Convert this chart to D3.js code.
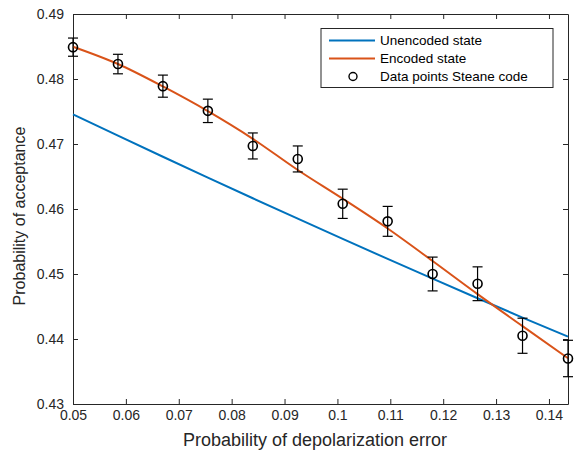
<!DOCTYPE html>
<html>
<head>
<meta charset="utf-8">
<script src="https://cdn.jsdelivr.net/npm/d3@7"></script>
<style>
  body { margin: 0; background: #fff; }
  svg { display: block; font-family: "Liberation Sans", Arial, sans-serif; }
</style>
</head>
<body>
<div id="page"></div>
<script>
// data
const p_error = [0.05, 0.0585, 0.0670, 0.0755, 0.0840, 0.0925, 0.1010, 0.1095, 0.1180, 0.1265, 0.1350, 0.1436];
const unencoded = [0.47457, 0.47129, 0.46804, 0.46483, 0.46165, 0.45851, 0.45540, 0.45232, 0.44928, 0.44627, 0.44330, 0.44036];
const encoded = [0.48497, 0.48231, 0.47885, 0.47505, 0.47080, 0.46600, 0.46158, 0.45700, 0.45200, 0.44690, 0.44198, 0.43703];
const steane = [0.4849, 0.4823, 0.4789, 0.4751, 0.4697, 0.4677, 0.4608, 0.4581, 0.4500, 0.4485, 0.4405, 0.4370];
const steane_err = [0.0014, 0.0015, 0.0017, 0.0018, 0.0020, 0.0020, 0.00225, 0.0023, 0.0026, 0.0026, 0.0027, 0.0028];

const x_ticks = [0.05, 0.06, 0.07, 0.08, 0.09, 0.1, 0.11, 0.12, 0.13, 0.14];
const x_tick_labels = ["0.05", "0.06", "0.07", "0.08", "0.09", "0.1", "0.11", "0.12", "0.13", "0.14"];
const y_ticks = [0.43, 0.44, 0.45, 0.46, 0.47, 0.48, 0.49];
const y_tick_labels = ["0.43", "0.44", "0.45", "0.46", "0.47", "0.48", "0.49"];

const legend_labels = ["Unencoded state", "Encoded state", "Data points Steane code"];

// layout
const w = 579, h = 451;
const margin = { top: 14, right: 11, bottom: 47, left: 73 };
const axis_color = "#262626";
const blue = "#0072BD";
const orange = "#D95319";

const svg = d3.select("#page").append("svg")
    .attr("width", w)
    .attr("height", h);

const x = d3.scaleLinear().domain([0.05, 0.1436]).range([margin.left, w - margin.right]);
const y = d3.scaleLinear().domain([0.43, 0.49]).range([h - margin.bottom, margin.top]);

// axes, ticks inward like matlab
const x_axis = d3.axisBottom(x).tickValues(x_ticks)
    .tickFormat((d, i) => x_tick_labels[i])
    .tickSizeInner(-5).tickSizeOuter(0).tickPadding(6);
const y_axis = d3.axisLeft(y).tickValues(y_ticks)
    .tickFormat((d, i) => y_tick_labels[i])
    .tickSizeInner(-5).tickSizeOuter(0).tickPadding(9);

svg.append("g")
    .attr("transform", `translate(0,${h - margin.bottom})`)
    .call(x_axis);
svg.append("g")
    .attr("transform", `translate(${margin.left},0)`)
    .call(y_axis);

// top and right box ticks
svg.append("g")
    .attr("transform", `translate(0,${margin.top})`)
    .call(d3.axisTop(x).tickValues(x_ticks).tickFormat("").tickSizeInner(-5).tickSizeOuter(0));
svg.append("g")
    .attr("transform", `translate(${w - margin.right},0)`)
    .call(d3.axisRight(y).tickValues(y_ticks).tickFormat("").tickSizeInner(-5).tickSizeOuter(0));

svg.selectAll(".domain, .tick line").attr("stroke", axis_color);
svg.selectAll(".tick text")
    .attr("fill", axis_color)
    .style("font-size", "14px");

// lines
const line = (vals) => d3.line()
    .x((d, i) => x(p_error[i]))
    .y((d) => y(d))
    .curve(d3.curveMonotoneX)(vals);

svg.append("path")
    .attr("d", line(unencoded))
    .attr("fill", "none")
    .attr("stroke", blue)
    .attr("stroke-width", 2);

svg.append("path")
    .attr("d", line(encoded))
    .attr("fill", "none")
    .attr("stroke", orange)
    .attr("stroke-width", 2);

// error bars
const cap = 5;
const bars = svg.append("g").attr("stroke", "#000").attr("stroke-width", 1.2);
steane.forEach((v, i) => {
    const cx = x(p_error[i]);
    const y0 = y(v - steane_err[i]);
    const y1 = y(v + steane_err[i]);
    bars.append("line").attr("x1", cx).attr("x2", cx).attr("y1", y0).attr("y2", y1);
    bars.append("line").attr("x1", cx - cap).attr("x2", cx + cap).attr("y1", y0).attr("y2", y0);
    bars.append("line").attr("x1", cx - cap).attr("x2", cx + cap).attr("y1", y1).attr("y2", y1);
});

svg.append("g").selectAll("circle")
    .data(steane)
    .join("circle")
    .attr("cx", (d, i) => x(p_error[i]))
    .attr("cy", (d) => y(d))
    .attr("r", 4.5)
    .attr("fill", "none")
    .attr("stroke", "#000")
    .attr("stroke-width", 1.6);

// legend
const lg = svg.append("g");
lg.append("rect")
    .attr("x", 321).attr("y", 28.5)
    .attr("width", 232).attr("height", 59)
    .attr("fill", "#fff")
    .attr("stroke", axis_color)
    .attr("stroke-width", 1);

const rows = [40.5, 58.5, 76.5];
lg.append("line").attr("x1", 329).attr("x2", 375).attr("y1", rows[0]).attr("y2", rows[0])
    .attr("stroke", blue).attr("stroke-width", 2);
lg.append("line").attr("x1", 329).attr("x2", 375).attr("y1", rows[1]).attr("y2", rows[1])
    .attr("stroke", orange).attr("stroke-width", 2);
lg.append("circle").attr("cx", 353).attr("cy", rows[2]).attr("r", 4)
    .attr("fill", "none").attr("stroke", "#000").attr("stroke-width", 1.4);

lg.selectAll("text")
    .data(legend_labels)
    .join("text")
    .attr("x", 380)
    .attr("y", (d, i) => rows[i])
    .attr("dy", "0.35em")
    .style("font-size", "13.5px")
    .attr("fill", "#000")
    .text((d) => d);

// axis titles
svg.append("text")
    .attr("x", 315)
    .attr("y", 446)
    .attr("text-anchor", "middle")
    .attr("fill", axis_color)
    .style("font-size", "18px")
    .text("Probability of depolarization error");

svg.append("text")
    .attr("transform", "translate(25,216) rotate(-90)")
    .attr("text-anchor", "middle")
    .attr("fill", axis_color)
    .style("font-size", "16px")
    .text("Probability of acceptance");
</script>
</body>
</html>
